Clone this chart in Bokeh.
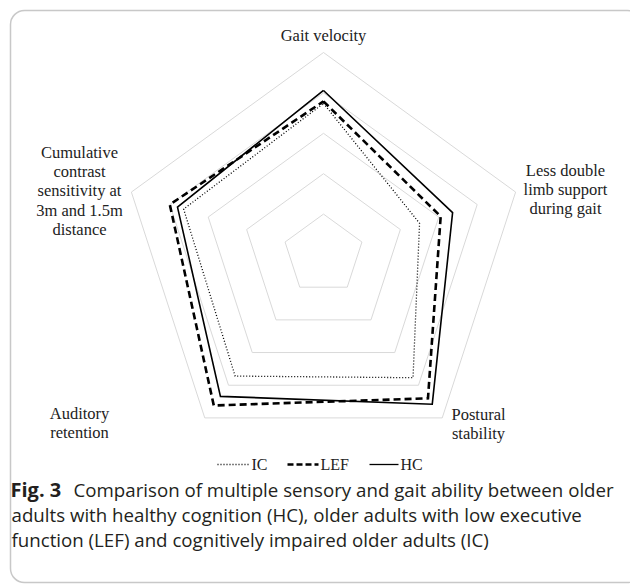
import numpy as np
from bokeh.plotting import figure
from bokeh.models import Range1d, BoxAnnotation, Label
from bokeh.embed import file_html
from bokeh.resources import INLINE

# ---------------- data ----------------
categories = ["Gait velocity", "Less double limb support during gait",
              "Postural stability", "Auditory retention",
              "Cumulative contrast sensitivity at 3m and 1.5m distance"]
hc = [4.06, 3.36, 4.58, 4.34, 3.80]
lef = [3.79, 3.05, 4.40, 4.62, 4.00]
ic = [3.74, 2.50, 3.77, 3.72, 3.64]
grid_levels = [1, 2, 3, 4, 5]
series_names = ["IC", "LEF", "HC"]
caption_lines = [
    "Comparison of multiple sensory and gait ability between older",
    "adults with healthy cognition (HC), older adults with low executive",
    "function (LEF) and cognitively impaired older adults (IC)",
]

# ---------------- layout ----------------
W, H = 630, 586
OX, OY = 0, 0       # page offset of the canvas
S = 40.4            # px per unit
CX, CY = 323, 254   # centre in page px


def px(x, y):
    """page pixel -> data coords"""
    return (x - CX) / S, (CY - y) / S


angles = np.deg2rad([90, 18, -54, -126, 162])

x0, y0 = px(OX, OY)
x1, y1 = px(OX + W, OY + H)
p = figure(width=W, height=H, output_backend="svg", toolbar_location=None,
           x_range=Range1d(x0, x1), y_range=Range1d(y1, y0),
           min_border=0, outline_line_color=None)
p.axis.visible = False
p.grid.visible = False
p.background_fill_color = "white"
p.border_fill_color = "white"

# card
l, t = px(10, 10)
r, b = px(641, 582)
p.add_layout(BoxAnnotation(left=l, right=r, top=t, bottom=b, fill_alpha=0,
                           line_color="#4a4a4a", line_width=1.5, border_radius=14))

# grid pentagons
for g in grid_levels:
    xs = list(g * np.cos(angles)) + [g * np.cos(angles[0])]
    ys = list(g * np.sin(angles)) + [g * np.sin(angles[0])]
    p.line(xs, ys, line_color="#d9d9d9", line_width=1)


def closed(vals):
    v = np.array(vals + vals[:1])
    a = np.concatenate([angles, angles[:1]])
    return v * np.cos(a), v * np.sin(a)


styles = {
    "IC": dict(line_width=1.3, line_dash="1 2"),
    "LEF": dict(line_width=2.6, line_dash="7 4"),
    "HC": dict(line_width=1.6, line_dash="solid"),
}
for name, vals in zip(series_names, [ic, lef, hc]):
    xs, ys = closed(vals)
    p.line(xs, ys, line_color="black", line_join="miter", **styles[name])

# axis labels
label_lines = [
    ["Gait velocity"],
    ["Less double", "limb support", "during gait"],
    ["Postural", "stability"],
    ["Auditory", "retention"],
    ["Cumulative", "contrast", "sensitivity at", "3m and 1.5m", "distance"],
]
label_pos = [(323, 35), (565, 170), (478, 414), (79, 413), (79, 152)]
line_h = 19.2
for lines, (lx, ly) in zip(label_lines, label_pos):
    for k, txt in enumerate(lines):
        dx, dy = px(lx, ly + k * line_h)
        p.add_layout(Label(x=dx, y=dy, text=txt, text_align="center",
                           text_baseline="middle", text_font="Liberation Serif",
                           text_font_size="16.5px", text_color="#222222"))

# legend
LY = 464
leg = [("IC", 217, 248, 251), ("LEF", 287, 318, 320), ("HC", 369, 398, 400)]
for name, a1, a2, tx in leg:
    xa, ya = px(a1, LY)
    xb, _ = px(a2, LY)
    st = dict(styles[name])
    if name == "LEF":
        st["line_width"] = 2.4
        st["line_dash"] = "6 3"
    if name == "HC":
        st["line_width"] = 1.3
    p.line([xa, xb], [ya, ya], line_color="black", **st)
    xt, yt = px(tx, LY)
    p.add_layout(Label(x=xt, y=yt, text=name, text_align="left",
                       text_baseline="middle", text_font="Liberation Serif",
                       text_font_size="16px", text_color="#222222"))

# caption
cap_y = [489, 514, 539]
fx, fy = px(10, cap_y[0])
p.add_layout(Label(x=fx, y=fy, text="Fig. 3", text_align="left",
                   text_baseline="middle", text_font="Open Sans",
                   text_font_style="bold", text_font_size="20px",
                   text_color="#231f20"))
starts = [73, 11, 11]
for txt, yy, sx in zip(caption_lines, cap_y, starts):
    cx_, cy_ = px(sx, yy)
    p.add_layout(Label(x=cx_, y=cy_, text=txt, text_align="left",
                       text_baseline="middle", text_font="Open Sans",
                       text_font_size="18.7px", text_color="#231f20"))

open("out.html", "w").write(file_html(p, INLINE))
